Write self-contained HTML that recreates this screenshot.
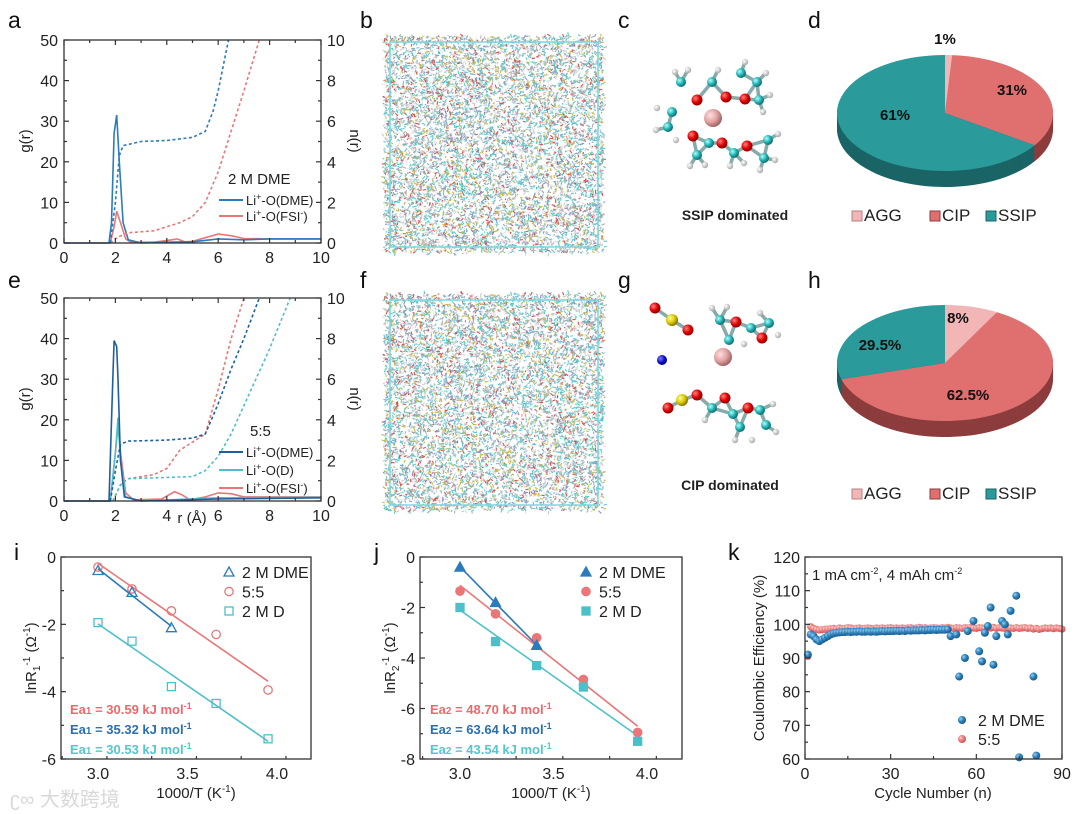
<!DOCTYPE html>
<html><head><meta charset="utf-8">
<style>
html,body{margin:0;padding:0;background:#fff;}
svg{display:block;font-family:"Liberation Sans",Arial,sans-serif;}
.tk{font-size:15px;fill:#222;}
.pl{font-size:23px;fill:#111;}
.ti{font-size:15px;fill:#222;}
</style></head>
<body>
<svg id="fig" width="1080" height="814" viewBox="0 0 1080 814">
<defs>
<clipPath id="clipA"><rect x="64" y="40" width="257" height="203"/></clipPath>
<clipPath id="clipE"><rect x="64" y="298" width="257" height="203"/></clipPath>
<radialGradient id="gBlue" cx="35%" cy="35%" r="65%"><stop offset="0" stop-color="#9cd0f0"/><stop offset="0.5" stop-color="#2f85c0"/><stop offset="1" stop-color="#1a5a8a"/></radialGradient>
<radialGradient id="gRed" cx="35%" cy="35%" r="65%"><stop offset="0" stop-color="#ffd0d0"/><stop offset="0.5" stop-color="#ec8080"/><stop offset="1" stop-color="#c85858"/></radialGradient>
<radialGradient id="gO" cx="35%" cy="35%" r="65%"><stop offset="0" stop-color="#ff8080"/><stop offset="0.6" stop-color="#e00000"/><stop offset="1" stop-color="#900000"/></radialGradient>
<radialGradient id="gC" cx="35%" cy="35%" r="65%"><stop offset="0" stop-color="#b0ffff"/><stop offset="0.6" stop-color="#20b0b0"/><stop offset="1" stop-color="#107070"/></radialGradient>
<radialGradient id="gH" cx="35%" cy="35%" r="65%"><stop offset="0" stop-color="#ffffff"/><stop offset="1" stop-color="#aaaaaa"/></radialGradient>
<radialGradient id="gLi" cx="35%" cy="35%" r="65%"><stop offset="0" stop-color="#ffe0e0"/><stop offset="0.6" stop-color="#e0a0a0"/><stop offset="1" stop-color="#a06868"/></radialGradient>
<radialGradient id="gS" cx="35%" cy="35%" r="65%"><stop offset="0" stop-color="#ffff90"/><stop offset="0.6" stop-color="#d8c800"/><stop offset="1" stop-color="#887800"/></radialGradient>
<radialGradient id="gN" cx="35%" cy="35%" r="65%"><stop offset="0" stop-color="#8080ff"/><stop offset="0.6" stop-color="#1010d0"/><stop offset="1" stop-color="#000080"/></radialGradient>
</defs>

<text class="pl" x="8" y="28">a</text>
<text class="pl" x="360" y="28">b</text>
<text class="pl" x="618" y="28">c</text>
<text class="pl" x="808" y="28">d</text>
<text class="pl" x="8" y="288">e</text>
<text class="pl" x="360" y="288">f</text>
<text class="pl" x="618" y="288">g</text>
<text class="pl" x="808" y="288">h</text>
<text class="pl" x="14" y="560">i</text>
<text class="pl" x="374" y="560">j</text>
<text class="pl" x="728" y="560">k</text>

<text class="ti" font-size="16" transform="translate(30,141) rotate(-90)" text-anchor="middle">g(r)</text>
<text class="ti" font-size="16" transform="translate(350,141) rotate(90)" text-anchor="middle">n(r)</text>
<text class="ti" font-size="16" transform="translate(30,399) rotate(-90)" text-anchor="middle">g(r)</text>
<text class="ti" font-size="16" transform="translate(350,399) rotate(90)" text-anchor="middle">n(r)</text>
<text class="ti" font-size="16" x="192" y="523" text-anchor="middle">r (Å)</text>

<text class="ti" x="228" y="184" font-size="13">2 M DME</text>
<text class="ti" x="250" y="436" font-size="13">5:5</text>

<text class="ti" x="196" y="798" text-anchor="middle">1000/T (K<tspan dy="-6" font-size="10">-1</tspan><tspan dy="6">)</tspan></text>
<text class="ti" x="551" y="798" text-anchor="middle">1000/T (K<tspan dy="-6" font-size="10">-1</tspan><tspan dy="6">)</tspan></text>
<text class="ti" x="933" y="798" text-anchor="middle">Cycle Number (n)</text>
<text class="ti" transform="translate(36,658) rotate(-90)" text-anchor="middle">lnR<tspan dy="4" font-size="10">1</tspan><tspan dy="-10" font-size="10">-1</tspan><tspan dy="6"> (Ω</tspan><tspan dy="-6" font-size="10">-1</tspan><tspan dy="6">)</tspan></text>
<text class="ti" transform="translate(395,658) rotate(-90)" text-anchor="middle">lnR<tspan dy="4" font-size="10">2</tspan><tspan dy="-10" font-size="10">-1</tspan><tspan dy="6"> (Ω</tspan><tspan dy="-6" font-size="10">-1</tspan><tspan dy="6">)</tspan></text>
<text class="ti" transform="translate(764,658) rotate(-90)" text-anchor="middle">Coulombic Efficiency (%)</text>
<text class="ti" x="812" y="580" font-size="14">1 mA cm<tspan dy="-6" font-size="9">-2</tspan><tspan dy="6">, 4 mAh cm</tspan><tspan dy="-6" font-size="9">-2</tspan></text>

<text x="735" y="220" text-anchor="middle" font-size="14" font-weight="bold" fill="#222">SSIP dominated</text>
<text x="730" y="490" text-anchor="middle" font-size="14" font-weight="bold" fill="#222">CIP dominated</text>

<text x="70" y="714" font-size="13" font-weight="bold" fill="#ea6a6c">Ea<tspan font-size="10">1</tspan> = 30.59 kJ mol<tspan dy="-5" font-size="9">-1</tspan></text>
<text x="70" y="734" font-size="13" font-weight="bold" fill="#2b6fae">Ea<tspan font-size="10">1</tspan> = 35.32 kJ mol<tspan dy="-5" font-size="9">-1</tspan></text>
<text x="70" y="754" font-size="13" font-weight="bold" fill="#55c6cb">Ea<tspan font-size="10">1</tspan> = 30.53 kJ mol<tspan dy="-5" font-size="9">-1</tspan></text>
<text x="430" y="714" font-size="13" font-weight="bold" fill="#ea6a6c">Ea<tspan font-size="10">2</tspan> = 48.70 kJ mol<tspan dy="-5" font-size="9">-1</tspan></text>
<text x="430" y="734" font-size="13" font-weight="bold" fill="#2b6fae">Ea<tspan font-size="10">2</tspan> = 63.64 kJ mol<tspan dy="-5" font-size="9">-1</tspan></text>
<text x="430" y="754" font-size="13" font-weight="bold" fill="#55c6cb">Ea<tspan font-size="10">2</tspan> = 43.54 kJ mol<tspan dy="-5" font-size="9">-1</tspan></text>

<text x="10" y="806" font-size="20" fill="#d8d8d8">ʗ∞ 大数跨境</text>
</svg>

<script>
// ---------- panel a data ----------
const aDmeR=[0,1.75,1.85,1.95,2.05,2.15,2.3,2.5,3,4,5,6,7,8,10];
const aDmeG=[0,0,5,27,31.5,20,5,0.8,0,0.2,0.3,1,0.8,1,1];
const aFsiR=[0,1.8,1.95,2.05,2.2,2.4,2.6,3.5,4.2,4.4,4.7,5,5.5,6,6.5,7,8,10];
const aFsiG=[0,0,4,7.8,5,1,0.2,0.2,0.8,1,0.3,0.4,1.3,2.2,1.8,1.1,1,1];
const aDmeNR=[1.8,2.0,2.15,2.3,3,4,5,5.5,5.8,6,6.4];
const aDmeN=[0,2,4.3,4.8,5,5.05,5.2,5.5,6.5,7.5,10];
const aFsiNR=[1.8,2.1,2.5,3.5,4.5,5,5.5,6,6.5,7,7.6];
const aFsiN=[0,0.3,0.5,0.6,1,1.3,2,3.5,5.5,7.5,10];
// ---------- panel e data ----------
const eDmeR=[0,1.75,1.9,1.95,2.05,2.1,2.2,2.35,3,6,10];
const eDmeG=[0,0,30,39.5,38,30,10,1,0,0.5,0.8];
const eDR=[0,1.8,2.0,2.1,2.2,2.4,3,6,10];
const eDG=[0,0,12,20.5,10,1,0,0.8,0.9];
const eFsiR=[0,1.8,2.0,2.1,2.2,2.4,2.7,3.8,4.3,4.6,4.9,5.5,6,6.5,7,10];
const eFsiG=[0,0,12,18.5,12,2,0.3,0.5,2.3,1.5,0.3,1,2,1.8,1,1];
const eDmeNR=[1.8,2.0,2.2,2.5,4,5,5.5,6,6.5,7,7.6];
const eDmeN=[0,1.5,2.8,2.95,3,3.1,3.3,4.8,6.5,8,10];
const eDNR=[1.9,2.2,2.5,5,5.5,6,6.5,7,8,8.8];
const eDN=[0,0.8,1.1,1.2,1.5,2.2,3.3,4.7,7.5,10];
const eFsiNR=[1.9,2.2,2.5,3.5,4,4.5,5,5.5,6,6.5,7];
const eFsiN=[0,0.8,1.1,1.3,1.6,2.5,2.9,3.3,5.5,8,10];
// ---------- panel i/j data ----------
const ijDmeX=[3.0,3.19,3.41];
const ijX=[3.0,3.19,3.41,3.66,3.95];
const iDmeY=[-0.4,-1.05,-2.1];
const i55Y=[-0.3,-0.95,-1.6,-2.3,-3.95];
const iDY=[-1.95,-2.5,-3.85,-4.35,-5.4];
const jDmeY=[-0.4,-1.8,-3.5];
const j55Y=[-1.35,-2.25,-3.2,-4.85,-6.95];
const jDY=[-2.0,-3.35,-4.3,-5.15,-7.3];
// ---------- panel k data ----------
const k55Y=[90.5,99.3,98.8,98.5,98.3,98.4,98.5,98.6,98.7,98.8,98.6,98.9,98.7,98.8,99.0,98.9,98.7,98.8,98.9,98.7,
98.8,98.9,98.8,98.7,98.9,98.8,98.9,98.8,98.9,99.0,98.8,98.9,98.8,98.9,98.8,98.9,99.0,98.8,98.9,99.1,
98.9,99.0,98.8,98.9,99.0,98.9,98.8,99.0,98.9,99.1,98.9,98.8,99.0,98.9,98.8,99.0,98.9,99.1,98.9,98.8,
99.0,98.9,98.8,99.0,98.9,99.1,98.8,99.0,98.9,98.8,99.0,98.9,98.8,99.0,98.8,98.9,99.0,98.8,98.9,98.6,
98.8,98.5,98.7,98.9,98.8,98.9,98.7,98.9,98.8,98.6];
const kDmeX=[1,2,3,4,5,6,7,8,9,10,11,12,13,14,15,16,17,18,19,20,21,22,23,24,25,26,27,28,29,30,31,32,33,34,35,36,37,38,39,40,41,42,43,44,45,46,47,48,49,50,
51,53,54,56,57,59,61,62,63,64,65,66,67,69,70,71,72,74,75,80,81];
const kDmeY=[91,97,96.5,95.5,95,95.5,96,96.5,97,97.3,97.5,97.6,97.7,97.7,97.8,97.7,97.8,97.8,97.9,97.8,97.8,97.9,97.8,97.9,97.8,97.9,98,97.9,98,98,98,98.1,98,98.1,98,98.2,98.1,98.2,98.2,98.2,98.3,98.2,98.3,98.3,98.4,98.3,98.4,98.4,98.4,98.5,
96.5,97,84.5,90,98,101,92,89,97.5,99.5,105,88,96.5,101,100,97,104,108.5,60.5,84.5,61];
// ---------- pies ----------
const dLabels=['AGG','CIP','SSIP'];
const dVals=[1,31,61];
const hVals=[8,62.5,29.5];

const NS='http://www.w3.org/2000/svg';
const svg=document.getElementById('fig');
function mk(tag,attrs,parent){const e=document.createElementNS(NS,tag);for(const k in attrs)e.setAttribute(k,attrs[k]);(parent||svg).appendChild(e);return e;}
function txt(x,y,s,attrs){const e=mk('text',Object.assign({x:x,y:y,'font-size':15,fill:'#222'},attrs||{}));e.textContent=s;return e;}

function frame(x0,y0,x1,y1,name){
  const r=mk('rect',{x:x0,y:y0,width:x1-x0,height:y1-y0,fill:'none',stroke:'#333','stroke-width':1.3});
  
  
}
function tick(x1,y1,x2,y2){const t=mk('line',{x1:x1,y1:y1,x2:x2,y2:y2,stroke:'#333','stroke-width':1.2});
  
  }
function poly(xs,ys,sx,sy,attrs,name,clip){
  const pts=xs.map((x,i)=>sx(x).toFixed(1)+','+sy(ys[i]).toFixed(1)).join(' ');
  const a=Object.assign({points:pts,fill:'none'},attrs);
  if(clip)a['clip-path']='url(#'+clip+')';
  const p=mk('polyline',a);
  
  
}

function rdfPanel(top,name,series,nseries,clip){
  const x0=64,x1=321,y0=top,y1=top+203;
  const sx=r=>x0+r*(x1-x0)/10, sy=g=>y1-g*(y1-y0)/50, sn=n=>y1-n*(y1-y0)/10;
  series.forEach(s=>poly(s[0],s[1],sx,sy,{stroke:s[2],'stroke-width':1.6},name+'-'+s[3]+'-rdf'));
  nseries.forEach(s=>poly(s[0],s[1],sx,sn,{stroke:s[2],'stroke-width':1.6,'stroke-dasharray':'3,2.5'},name+'-'+s[3]+'-cn',clip));
  frame(x0,y0,x1,y1,name+'-plot-frame');
  for(let r=0;r<=10;r++){const L=r%2?3:5;tick(sx(r),y1,sx(r),y1-L);tick(sx(r),y0,sx(r),y0+L);}
  for(let g=0;g<=50;g+=5){const L=g%10?3:5;tick(x0,sy(g),x0+L,sy(g));}
  for(let n=0;n<=10;n++){const L=n%2?3:5;tick(x1,sn(n),x1-L,sn(n));}
  for(let r=0;r<=10;r+=2){const t=txt(sx(r),y1+20,String(r),{'text-anchor':'middle','font-size':16});
    
    }
  for(let g=0;g<=50;g+=10){const t=txt(x0-6,sy(g)+6,String(g),{'text-anchor':'end','font-size':16});
    
    }
  for(let n=0;n<=10;n+=2){const t=txt(x1+6,sn(n)+6,String(n),{'font-size':16});
    
    }
}
const cBlue='#2b7bbd',cRed='#ea7678',cCyan='#4cc0c8',cDBlue='#1f5f9e';
rdfPanel(40,'a',[[aFsiR,aFsiG,cRed,'fsi'],[aDmeR,aDmeG,cBlue,'dme']],[[aFsiNR,aFsiN,cRed,'fsi'],[aDmeNR,aDmeN,cBlue,'dme']],'clipA');
rdfPanel(298,'e',[[eFsiR,eFsiG,cRed,'fsi'],[eDR,eDG,cCyan,'d'],[eDmeR,eDmeG,cDBlue,'dme']],[[eFsiNR,eFsiN,cRed,'fsi'],[eDNR,eDN,cCyan,'d'],[eDmeNR,eDmeN,cDBlue,'dme']],'clipE');

function legLine(x,y,color,label,name){
  const l=mk('line',{x1:x,y1:y,x2:x+24,y2:y,stroke:color,'stroke-width':2});
  
  
  const t=txt(x+27,y+5,'',{'font-size':13});
  t.innerHTML=label;
  
  
}
legLine(219,200,cBlue,'Li<tspan dy="-5" font-size="9">+</tspan><tspan dy="5">-O(DME)</tspan>','a-legend-dme');
legLine(219,216,cRed,'Li<tspan dy="-5" font-size="9">+</tspan><tspan dy="5">-O(FSI</tspan><tspan dy="-5" font-size="9">-</tspan><tspan dy="5">)</tspan>','a-legend-fsi');
legLine(219,452,cDBlue,'Li<tspan dy="-5" font-size="9">+</tspan><tspan dy="5">-O(DME)</tspan>','e-legend-dme');
legLine(219,470,cCyan,'Li<tspan dy="-5" font-size="9">+</tspan><tspan dy="5">-O(D)</tspan>','e-legend-d');
legLine(219,488,cRed,'Li<tspan dy="-5" font-size="9">+</tspan><tspan dy="5">-O(FSI</tspan><tspan dy="-5" font-size="9">-</tspan><tspan dy="5">)</tspan>','e-legend-fsi');

// ---------- MD snapshots (decorative texture) ----------
function snapshot(x0,y0,w,h,name,seed){
  const g=mk('g',{});
  
  
  let s=seed;const rnd=()=>{s=(s*1103515245+12345)%2147483648;return s/2147483648;};
  const cols=['#5cc8d0','#5cc8d0','#70c0c0','#d8d8d8','#c8c8c8','#e8e8e8','#b0b0b0','#d85050','#c8b840','#8898c8'];
  let html='';
  for(let i=0;i<9000;i++){
    const x=x0-6+rnd()*(w+12),y=y0-6+rnd()*(h+12);
    const c=cols[Math.floor(rnd()*cols.length)];
    const a=rnd()*6.28,l=1.5+rnd()*2.5;
    html+='<line x1="'+x.toFixed(1)+'" y1="'+y.toFixed(1)+'" x2="'+(x+Math.cos(a)*l).toFixed(1)+'" y2="'+(y+Math.sin(a)*l).toFixed(1)+'" stroke="'+c+'" stroke-width="1.1"/>';
  }
  html+='<rect x="'+x0+'" y="'+y0+'" width="'+w+'" height="'+h+'" fill="none" stroke="#7ad8e0" stroke-width="1.5"/>';
  g.innerHTML=html;
}
snapshot(390,42,208,205,'md-snapshot-2m-dme',12345);
snapshot(390,300,208,205,'md-snapshot-5-5',98765);

// ---------- molecules ----------
function molecule(atoms,name){
  const g=mk('g',{});
  
  
  let html='';
  for(let i=0;i<atoms.length;i++)for(let j=i+1;j<atoms.length;j++){
    const a=atoms[i],b=atoms[j];const d=Math.hypot(a[0]-b[0],a[1]-b[1]);
    const lim=(a[2]==='H'||b[2]==='H')?15:24;
    if(a[2]!=='Li'&&b[2]!=='Li'&&!(a[2]==='H'&&b[2]==='H')&&d<lim)
      html+='<line x1="'+a[0]+'" y1="'+a[1]+'" x2="'+b[0]+'" y2="'+b[1]+'" stroke="#8aa" stroke-width="3.5"/>';
  }
  const rad={O:5.5,C:5,H:3.2,Li:9,S:6,N:5};
  const gr={O:'gO',C:'gC',H:'gH',Li:'gLi',S:'gS',N:'gN'};
  atoms.forEach(a=>{html+='<circle cx="'+a[0]+'" cy="'+a[1]+'" r="'+rad[a[2]]+'" fill="url(#'+gr[a[2]]+')"/>';});
  g.innerHTML=html;
}
molecule([[681,82,'C'],[712,82,'C'],[741,73,'C'],[757,82,'C'],[759,100,'C'],[672,112,'C'],[668,127,'C'],[709,143,'C'],[697,155,'C'],[734,153,'C'],[768,140,'C'],[764,158,'C'],
[697,100,'O'],[726,97,'O'],[745,99,'O'],[693,136,'O'],[722,143,'O'],[747,146,'O'],
[675,72,'H'],[688,70,'H'],[718,70,'H'],[745,62,'H'],[766,73,'H'],[770,95,'H'],[763,112,'H'],[657,108,'H'],[656,130,'H'],[676,140,'H'],[690,166,'H'],[705,165,'H'],[730,166,'H'],[744,163,'H'],[778,134,'H'],[775,160,'H'],[760,170,'H'],
[713,118,'Li']],'c-molecule-ssip');
molecule([[672,320,'S'],[682,400,'S'],[662,360,'N'],[655,308,'O'],[688,330,'O'],[668,408,'O'],[697,395,'O'],
[736,322,'O'],[762,338,'O'],[748,408,'O'],[725,398,'O'],
[720,320,'C'],[729,340,'C'],[751,328,'C'],[769,323,'C'],[712,408,'C'],[733,414,'C'],[760,410,'C'],[766,425,'C'],[740,427,'C'],
[712,308,'H'],[727,307,'H'],[744,344,'H'],[760,313,'H'],[778,335,'H'],[705,420,'H'],[735,440,'H'],[752,440,'H'],[776,432,'H'],[773,404,'H'],
[723,357,'Li']],'g-molecule-cip');

// ---------- pies ----------
const pieCols=['#f2b6b6','#e07070','#2a9a9b'];
const pieDark=['#b88080','#8c3c3c','#1a6466'];
function pie(cx,cy,rx,ry,depth,vals,name){
  const tot=vals.reduce((a,b)=>a+b,0);
  const g=mk('g',{});
  
  
  function slice(a0,a1,dy,col,sname){
    const p=(a)=>[(cx+rx*Math.sin(a)).toFixed(1),(cy+dy-ry*Math.cos(a)).toFixed(1)];
    const s=p(a0),e=p(a1),large=(a1-a0)>Math.PI?1:0;
    const path=mk('path',{d:'M'+cx+','+(cy+dy)+' L'+s[0]+','+s[1]+' A'+rx+','+ry+' 0 '+large+' 1 '+e[0]+','+e[1]+' Z',fill:col},g);
    
    
  }
  for(let k=depth;k>=1;k--){let a=0;vals.forEach((v,i)=>{const b=a+v/tot*2*Math.PI;slice(a,b,k,pieDark[i],name+'-side');a=b;});}
  let a=0;vals.forEach((v,i)=>{const b=a+v/tot*2*Math.PI;slice(a,b,0,pieCols[i],name+'-slice-'+dLabels[i].toLowerCase());a=b;});
}
pie(945,113,108,58,16,dVals,'d-pie');
pie(945,363,108,58,16,hVals,'h-pie');
function lab(x,y,s,name){const t=txt(x,y,s,{'text-anchor':'middle','font-size':15,'font-weight':'bold',fill:'#111'});
  
  }
lab(945,44,dVals[0]+'%','d-label-agg');lab(1012,95,dVals[1]+'%','d-label-cip');lab(895,120,dVals[2]+'%','d-label-ssip');
lab(958,323,hVals[0]+'%','h-label-agg');lab(968,400,hVals[1]+'%','h-label-cip');lab(880,350,hVals[2]+'%','h-label-ssip');
function pieLegend(y,name){
  const xs=[852,930,986];
  dLabels.forEach((l,i)=>{
    const r=mk('rect',{x:xs[i],y:y-10,width:10,height:10,fill:pieCols[i],stroke:pieDark[i],'stroke-width':1});
    
    
    const t=txt(xs[i]+12,y,l,{'font-size':17});
    
    
  });
}
pieLegend(221,'d-legend');pieLegend(499,'h-legend');

// ---------- Arrhenius panels ----------
function fit(xs,ys){const n=xs.length,mx=xs.reduce((a,b)=>a+b)/n,my=ys.reduce((a,b)=>a+b)/n;
  let sxy=0,sxx=0;xs.forEach((x,i)=>{sxy+=(x-mx)*(ys[i]-my);sxx+=(x-mx)*(x-mx);});const m=sxy/sxx;return [m,my-m*mx];}
function marker(kind,x,y,col,filled,name){
  let e;
  if(kind==='tri')e=mk('path',{d:'M'+x+','+(y-5)+' L'+(x+5)+','+(y+4)+' L'+(x-5)+','+(y+4)+' Z'});
  else if(kind==='circ')e=mk('circle',{cx:x,cy:y,r:4.2});
  else e=mk('rect',{x:x-4,y:y-4,width:8,height:8});
  e.setAttribute('fill',filled?col:'none');e.setAttribute('stroke',col);e.setAttribute('stroke-width',1.3);
  
  
}
function arrPanel(p){
  const {x0,x1,y0,y1,x3,x4,ymin,name,filled,dmeY,y55,dY,legX}=p;
  const sx=v=>x3+(v-3)*(x4-x3), sy=v=>y0+(-v)*(y1-y0)/(-ymin);
  const series=[[ijX,y55,cRed,'circ','55'],[ijX,dY,cCyan,'sq','d'],[ijDmeX,dmeY,cBlue,'tri','dme']];
  series.forEach(s=>{const f=fit(s[0],s[1]);const xa=s[0][0],xb=s[0][s[0].length-1];
    poly([xa,xb],[f[0]*xa+f[1],f[0]*xb+f[1]],sx,sy,{stroke:s[2],'stroke-width':1.6},name+'-fit-'+s[4]);});
  series.forEach(s=>s[0].forEach((x,i)=>marker(s[3],sx(x),sy(s[1][i]),s[2],filled,name+'-point-'+s[4])));
  frame(x0,y0,x1,y1,name+'-plot-frame');
  for(let v=2.8;v<=4.21;v+=0.25){tick(sx(v),y1,sx(v),y1-(Math.abs((v*2)%1)<0.01?5:3));}
  for(let v=0;v>=ymin;v--){tick(x0,sy(v),x0+(v%2?3:5),sy(v));}
  ['3.0','3.5','4.0'].forEach(l=>{const t=txt(sx(+l),y1+20,l,{'text-anchor':'middle','font-size':16});
    
    });
  for(let v=0;v>=ymin;v-=2){const t=txt(x0-5,sy(v)+6,String(v),{'text-anchor':'end','font-size':16});
    
    }
  const L=[['2 M DME',cBlue,'tri'],['5:5',cRed,'circ'],['2 M D',cCyan,'sq']];
  L.forEach((l,i)=>{const y=572+i*19.5;marker(l[2],legX,y,l[1],filled,name+'-legend-marker');
    const t=txt(legX+13,y+6,l[0],{'font-size':16});
    
    });
}
arrPanel({x0:61,x1:311,y0:557,y1:759,x3:98,x4:277,ymin:-6,name:'i',filled:false,dmeY:iDmeY,y55:i55Y,dY:iDY,legX:229});
arrPanel({x0:420,x1:682,y0:557,y1:759,x3:460,x4:647,ymin:-8,name:'j',filled:true,dmeY:jDmeY,y55:j55Y,dY:jDY,legX:586});

// ---------- panel k ----------
(function(){
  const x0=805,x1=1062,y0=557,y1=759;
  const sx=c=>x0+c*(x1-x0)/90, sy=v=>y1-(v-60)*(y1-y0)/60;
  k55Y.forEach((v,i)=>{const c=mk('circle',{cx:sx(i+1),cy:sy(v),r:3.6,fill:'url(#gRed)'});
    
    });
  kDmeX.forEach((x,i)=>{const c=mk('circle',{cx:sx(x),cy:sy(kDmeY[i]),r:4,fill:'url(#gBlue)'});
    
    });
  frame(x0,y0,x1,y1,'k-plot-frame');
  for(let c=0;c<=90;c+=15){tick(sx(c),y1,sx(c),y1-(c%30?3:5));}
  for(let v=60;v<=120;v+=5){tick(x0,sy(v),x0+(v%10?3:5),sy(v));}
  for(let c=0;c<=90;c+=30){const t=txt(sx(c),y1+20,String(c),{'text-anchor':'middle','font-size':16});
    
    }
  for(let v=60;v<=120;v+=10){const t=txt(x0-5,sy(v)+6,String(v),{'text-anchor':'end','font-size':16});
    
    }
  [['2 M DME','gBlue'],['5:5','gRed']].forEach((l,i)=>{const y=720+i*19;
    const c=mk('circle',{cx:962,cy:y,r:4,fill:'url(#'+l[1]+')'});
    
    
    const t=txt(978,y+6,l[0],{'font-size':16});
    
    });
})();
</script>
</body></html>
